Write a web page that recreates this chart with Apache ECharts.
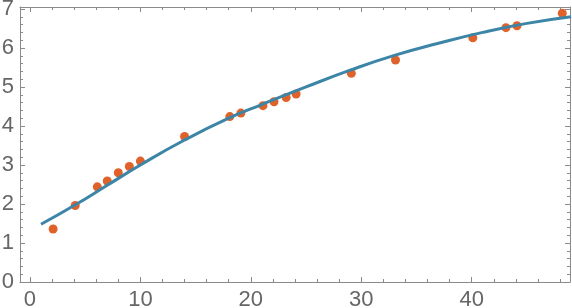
<!DOCTYPE html>
<html>
<head>
<meta charset="utf-8">
<script src="https://cdn.jsdelivr.net/npm/echarts@6/dist/echarts.min.js"></script>
<style>
html,body{margin:0;padding:0;background:#fff;}
#chart{width:572px;height:308px;}
</style>
</head>
<body>
<div id="chart"></div>
<script>
// Observed data points
const pointX = [2.1, 4.1, 6.1, 7, 8, 9, 10, 14, 18.1, 19.1, 21.1, 22.1, 23.2, 24.1, 29.1, 33.1, 40.1, 43.1, 44.1, 48.2];
const pointY = [1.36, 1.96, 2.44, 2.59, 2.80, 2.96, 3.10, 3.73, 4.24, 4.33, 4.52, 4.62, 4.73, 4.82, 5.35, 5.69, 6.26, 6.52, 6.57, 6.89];
// Fitted curve
const curveX = [1, 4, 7, 10, 14, 18, 21, 25, 29, 33, 37, 41, 45, 49];
const curveY = [1.48, 1.96, 2.48, 3.00, 3.64, 4.20, 4.55, 5.00, 5.43, 5.81, 6.12, 6.40, 6.63, 6.80];
// Tick values
const xMajor = [0, 10, 20, 30, 40];
const xMinor = [2, 4, 6, 8, 12, 14, 16, 18, 22, 24, 26, 28, 32, 34, 36, 38, 42, 44, 46, 48];
const yMajor = [0, 1, 2, 3, 4, 5, 6, 7];
const yMinor = [];
for (let i = 0; i < 7; i++) { for (let k = 1; k < 5; k++) { yMinor.push(+(i + k * 0.2).toFixed(1)); } }

const frameColor = '#8a8a8a';
const labelColor = '#666666';
const font = 'Liberation Sans, Arial, sans-serif';
const X_MIN = -0.9, X_MAX = 48.9, Y_MIN = 0, Y_MAX = 7.05;

function xAx(pos, values, len, showLine, showLabel) {
  return {
    type: 'value', position: pos, min: X_MIN, max: X_MAX,
    axisLine: { show: showLine, onZero: false, lineStyle: { color: frameColor, width: 1 } },
    axisTick: { show: true, inside: true, length: len, customValues: values, lineStyle: { color: frameColor, width: 1 } },
    axisLabel: { show: showLabel, customValues: values, color: labelColor, fontSize: 22, fontFamily: font, margin: 7 },
    splitLine: { show: false }
  };
}
function yAx(pos, values, len, showLine, showLabel) {
  return {
    type: 'value', position: pos, min: Y_MIN, max: Y_MAX,
    axisLine: { show: showLine, onZero: false, lineStyle: { color: frameColor, width: 1 } },
    axisTick: { show: true, inside: true, length: len, customValues: values, lineStyle: { color: frameColor, width: 1 } },
    axisLabel: { show: showLabel, customValues: values, color: labelColor, fontSize: 22, fontFamily: font, margin: 6 },
    splitLine: { show: false }
  };
}

const chart = echarts.init(document.getElementById('chart'), null, { renderer: 'canvas' });
chart.setOption({
  animation: false,
  backgroundColor: '#ffffff',
  grid: { left: 20, right: 2, top: 7, bottom: 26, containLabel: false, outerBoundsMode: 'none' },
  xAxis: [
    xAx('bottom', xMajor, 5, true, true),
    xAx('bottom', xMinor, 3, false, false),
    xAx('top', xMajor, 5, true, false),
    xAx('top', xMinor, 3, false, false)
  ],
  yAxis: [
    yAx('left', yMajor, 5, true, true),
    yAx('left', yMinor, 3, false, false),
    yAx('right', yMajor, 5, true, false),
    yAx('right', yMinor, 3, false, false)
  ],
  series: [
    {
      type: 'scatter', xAxisIndex: 0, yAxisIndex: 0, z: 2,
      symbol: 'circle', symbolSize: 9,
      itemStyle: { color: '#e0622b', opacity: 1 },
      data: pointX.map((x, i) => [x, pointY[i]])
    },
    {
      type: 'line', xAxisIndex: 0, yAxisIndex: 0, z: 3,
      smooth: 0.5, showSymbol: false, symbol: 'none',
      lineStyle: { color: '#3c85a6', width: 3 },
      data: curveX.map((x, i) => [x, curveY[i]])
    }
  ]
});
</script>
</body>
</html>
